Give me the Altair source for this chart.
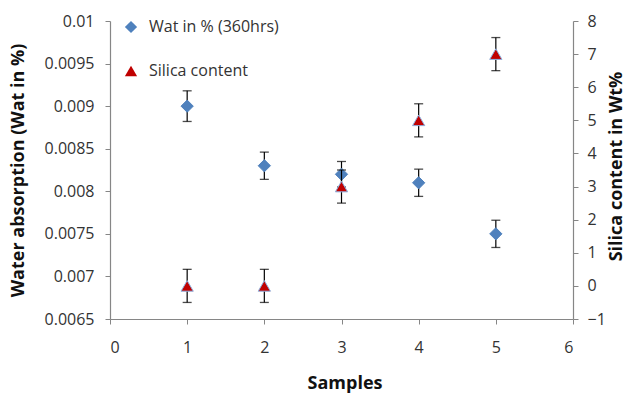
import altair as alt
import pandas as pd

samples = [1, 2, 3, 4, 5]
wat_values = [0.0090, 0.0083, 0.0082, 0.0081, 0.0075]
wat_errors = [0.00018, 0.00016, 0.00015, 0.00016, 0.00016]
silica_values = [0, 0, 3, 5, 7]
silica_errors = [0.5, 0.5, 0.5, 0.5, 0.5]
series_names = ["Wat in % (360hrs)", "Silica content"]
x_ticks = [0, 1, 2, 3, 4, 5, 6]
left_ticks = [0.0065, 0.007, 0.0075, 0.008, 0.0085, 0.009, 0.0095, 0.01]
right_ticks = [-1, 0, 1, 2, 3, 4, 5, 6, 7, 8]

wat_df = pd.DataFrame({"sample": samples, "value": wat_values, "err": wat_errors,
                       "series": [series_names[0]] * len(samples)})
sil_df = pd.DataFrame({"sample": samples, "value": silica_values, "err": silica_errors,
                       "series": [series_names[1]] * len(samples)})

FONT = "Open Sans"
W, H = 463, 298

x_enc = alt.X("sample:Q", scale=alt.Scale(domain=[0, 6], nice=False, zero=False),
              axis=alt.Axis(values=x_ticks, title="Samples", format="d",
                            labelPadding=15, titleX=W / 2 + 3, titleY=64,
                            titleBaseline="middle", titleAlign="center"))

fill_enc_args = dict(scale=alt.Scale(domain=series_names, range=["#4F81BD", "#C00000"]),
                     legend=alt.Legend(title=None, orient="none", legendX=13, legendY=-2,
                                       labelFontSize=16, labelFont=FONT, labelColor="#333333",
                                       symbolSize=150, rowPadding=28, padding=0,
                                       labelOffset=10, symbolStrokeWidth=0))
shape_enc_args = dict(scale=alt.Scale(domain=series_names, range=["diamond", "triangle-up"]),
                      legend=fill_enc_args["legend"])


def series_layer(df, scale, axis, stroke):
    base = alt.Chart(df).transform_calculate(
        lo="datum.value - datum.err", hi="datum.value + datum.err")
    rule = base.mark_rule(color="black", strokeWidth=1.2).encode(
        x=x_enc, y=alt.Y("lo:Q", scale=scale, axis=axis), y2="hi:Q")
    cap_lo = base.mark_tick(orient="horizontal", size=9, thickness=1.3, color="black").encode(
        x=x_enc, y=alt.Y("lo:Q", scale=scale, axis=axis))
    cap_hi = base.mark_tick(orient="horizontal", size=9, thickness=1.3, color="black").encode(
        x=x_enc, y=alt.Y("hi:Q", scale=scale, axis=axis))
    pts = base.mark_point(filled=True, size=150, opacity=1, stroke=stroke, strokeWidth=1).encode(
        x=x_enc, y=alt.Y("value:Q", scale=scale, axis=axis),
        fill=alt.Fill("series:N", **fill_enc_args),
        shape=alt.Shape("series:N", **shape_enc_args))
    return alt.layer(rule, cap_lo, cap_hi, pts)


left_scale = alt.Scale(domain=[0.0065, 0.01], nice=False, zero=False)
left_axis = alt.Axis(values=left_ticks, format="~g", title="Water absorption (Wat in %)",
                     labelPadding=11, titleAngle=270, titleX=-92, titleY=H / 2,
                     titleBaseline="middle", titleAlign="center")
right_scale = alt.Scale(domain=[-1, 8], nice=False, zero=False)
right_axis = alt.Axis(orient="right", values=right_ticks, format="d",
                      title="Silica content in Wt%", labelPadding=9, titleAngle=270,
                      titleX=43, titleY=H / 2 - 4, titleBaseline="middle", titleAlign="center")

wat_layer = series_layer(wat_df, left_scale, left_axis, "#4F81BD")
sil_layer = series_layer(sil_df, right_scale, right_axis, "#8DB3E2")

chart = alt.layer(wat_layer, sil_layer).resolve_scale(y="independent").properties(
    width=W, height=H, autosize="none",
    padding={"left": 110, "top": 21, "right": 54, "bottom": 75},
    background="white",
).configure_view(stroke=None).configure_axis(
    grid=False, domainColor="#868686", tickColor="#868686", domainWidth=1.2,
    tickSize=5, labelColor="#333333", labelFont=FONT, labelFontSize=16,
    titleFont=FONT, titleFontSize=18, titleFontWeight="bold", titleColor="#111111",
)

chart.save("out.html", embed_options={"renderer": "svg", "actions": False})
